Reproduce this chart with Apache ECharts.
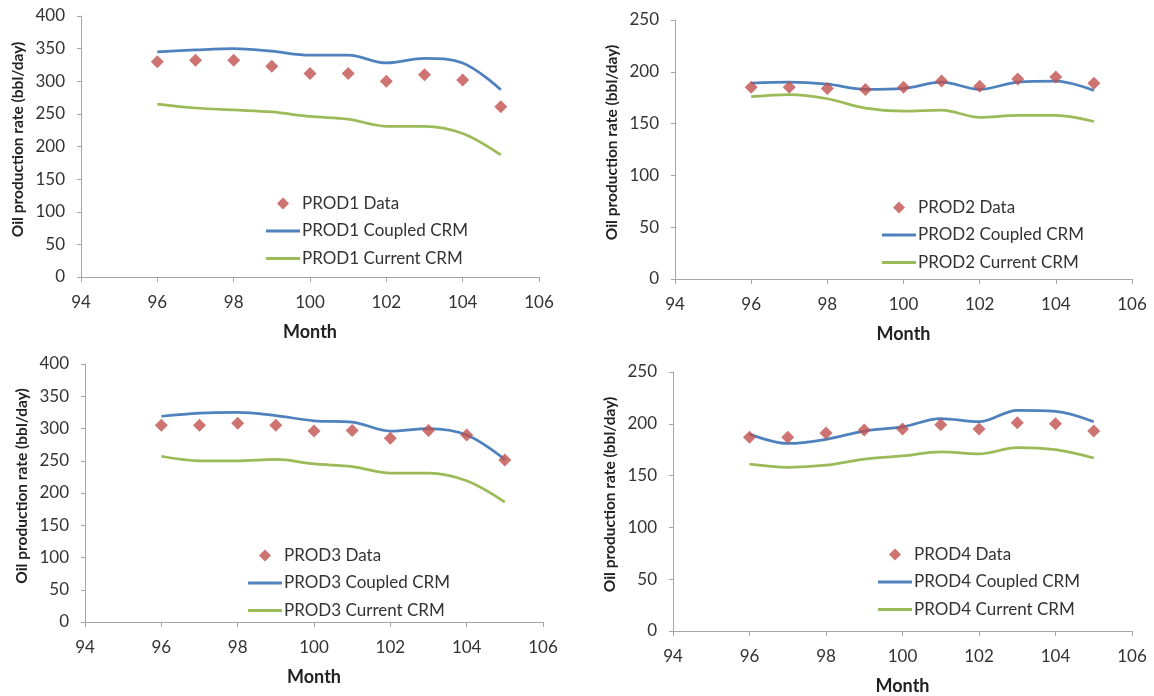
<!DOCTYPE html>
<html>
<head>
<meta charset="utf-8">
<script src="https://cdn.jsdelivr.net/npm/echarts@6/dist/echarts.min.js"></script>
<style>
  html, body { margin: 0; padding: 0; background: #ffffff; }
  #chart { width: 1154px; height: 696px; }
</style>
</head>
<body>
<div id="chart"></div>
<script>
// Months shared by every producer
const months = [96, 97, 98, 99, 100, 101, 102, 103, 104, 105];

// X axis range and tick step (month)
const xMin = 94, xMax = 106, xStep = 2;

// PROD1 oil rates (bbl/day)
const prod1Data    = [330, 332, 332, 323, 312, 312, 300, 310, 302, 261];
const prod1Coupled = [345, 348, 350, 346, 340, 340, 328, 335, 328, 287];
const prod1Current = [265, 259, 256, 253, 246, 242, 231, 231, 220, 187];

// PROD2 oil rates (bbl/day)
const prod2Data    = [185, 185, 184, 183, 185, 191, 186, 193, 195, 189];
const prod2Coupled = [189, 190, 188, 183, 184, 190, 183, 190, 191, 182];
const prod2Current = [176, 178, 174, 165, 162, 163, 156, 158, 158, 152];

// PROD3 oil rates (bbl/day)
const prod3Data    = [305, 305, 308, 305, 296, 297, 285, 297, 290, 251];
const prod3Coupled = [319, 324, 325, 320, 312, 310, 296, 300, 290, 252];
const prod3Current = [257, 250, 250, 252, 245, 241, 231, 231, 219, 186];

// PROD4 oil rates (bbl/day)
const prod4Data    = [187, 187, 191, 194, 195, 199, 195, 201, 200, 193];
const prod4Coupled = [190, 181, 185, 193, 197, 205, 202, 213, 212, 202];
const prod4Current = [161, 158, 160, 166, 169, 173, 171, 177, 175, 167];

// Y axis maximum for each panel
const yMaxes = [400, 250, 400, 250];

const panels = [
  { well: 'PROD1', data: prod1Data, coupled: prod1Coupled, current: prod1Current },
  { well: 'PROD2', data: prod2Data, coupled: prod2Coupled, current: prod2Current },
  { well: 'PROD3', data: prod3Data, coupled: prod3Coupled, current: prod3Current },
  { well: 'PROD4', data: prod4Data, coupled: prod4Coupled, current: prod4Current }
];

// Layout of the four plot areas
const grids = [
  { left: 81,  top: 16,  width: 458, height: 261 },
  { left: 675, top: 20,  width: 457, height: 259 },
  { left: 85,  top: 364, width: 458, height: 258 },
  { left: 673, top: 372, width: 459, height: 259 }
];
const legendPos = [
  { left: 266, top: 195 },
  { left: 882, top: 199 },
  { left: 248, top: 547 },
  { left: 878, top: 546 }
];

const FONT = 'Lato, "Open Sans", sans-serif';
const RED = '#C0504D', BLUE = '#4F81BD', GREEN = '#9BBB59';
const AXIS_GREY = '#A6A6A6';

// Legend glyphs: a small diamond and a short thick stroke
const DIAMOND_ICON = 'path://M6,0 L12,6 L6,12 L0,6 Z';
const LINE_ICON = 'path://M0,0 L34,0 L34,3 L0,3 Z';

const pairs = (ys) => months.map((m, i) => [m, ys[i]]);

const option = {
  animation: false,
  backgroundColor: '#ffffff',
  grid: grids.map(g => Object.assign({ containLabel: false }, g)),
  xAxis: grids.map((g, i) => ({
    gridIndex: i,
    type: 'value',
    min: xMin, max: xMax, interval: xStep,
    name: 'Month',
    nameLocation: 'middle',
    nameGap: 46,
    nameTextStyle: { fontFamily: FONT, fontWeight: 'bold', fontSize: 18, color: '#222' },
    axisLine: { show: true, lineStyle: { color: AXIS_GREY, width: 1 } },
    axisTick: { show: true, inside: false, length: 5, lineStyle: { color: AXIS_GREY } },
    axisLabel: { fontFamily: FONT, fontSize: 17, color: '#333', margin: 17 },
    splitLine: { show: false }
  })),
  yAxis: grids.map((g, i) => ({
    gridIndex: i,
    type: 'value',
    min: 0, max: yMaxes[i], interval: 50,
    name: 'Oil production rate (bbl/day)',
    nameLocation: 'middle',
    nameGap: 55,
    nameTextStyle: { fontFamily: FONT, fontWeight: 'bold', fontSize: 15.5, color: '#222', padding: [0, 0, 0, 14] },
    axisLine: { show: true, lineStyle: { color: AXIS_GREY, width: 1 } },
    axisTick: { show: true, inside: false, length: 4, lineStyle: { color: AXIS_GREY } },
    axisLabel: { fontFamily: FONT, fontSize: 17, color: '#333', margin: 16 },
    splitLine: { show: false }
  })),
  legend: panels.map((p, i) => ({
    orient: 'vertical',
    left: legendPos[i].left,
    top: legendPos[i].top,
    padding: 0,
    itemWidth: 34,
    itemHeight: 12,
    itemGap: 10.5,
    symbolKeepAspect: true,
    selectedMode: false,
    textStyle: { fontFamily: FONT, fontSize: 17, color: '#333', padding: [0, 0, 0, -3] },
    data: [
      { name: p.well + ' Data', icon: DIAMOND_ICON },
      { name: p.well + ' Coupled CRM', icon: LINE_ICON },
      { name: p.well + ' Current CRM', icon: LINE_ICON }
    ]
  })),
  series: panels.flatMap((p, i) => [
    {
      name: p.well + ' Data',
      type: 'scatter',
      xAxisIndex: i, yAxisIndex: i,
      symbol: 'diamond',
      symbolSize: 13,
      itemStyle: { color: RED },
      data: pairs(p.data),
      z: 3
    },
    {
      name: p.well + ' Coupled CRM',
      type: 'line',
      xAxisIndex: i, yAxisIndex: i,
      symbol: 'none',
      smooth: 0.35,
      lineStyle: { color: BLUE, width: 2.75 },
      itemStyle: { color: BLUE },
      data: pairs(p.coupled),
      z: 2
    },
    {
      name: p.well + ' Current CRM',
      type: 'line',
      xAxisIndex: i, yAxisIndex: i,
      symbol: 'none',
      smooth: 0.35,
      lineStyle: { color: GREEN, width: 2.75 },
      itemStyle: { color: GREEN },
      data: pairs(p.current),
      z: 2
    }
  ])
};

const chart = echarts.init(document.getElementById('chart'), null, { renderer: 'canvas' });
chart.setOption(option);
</script>
</body>
</html>
